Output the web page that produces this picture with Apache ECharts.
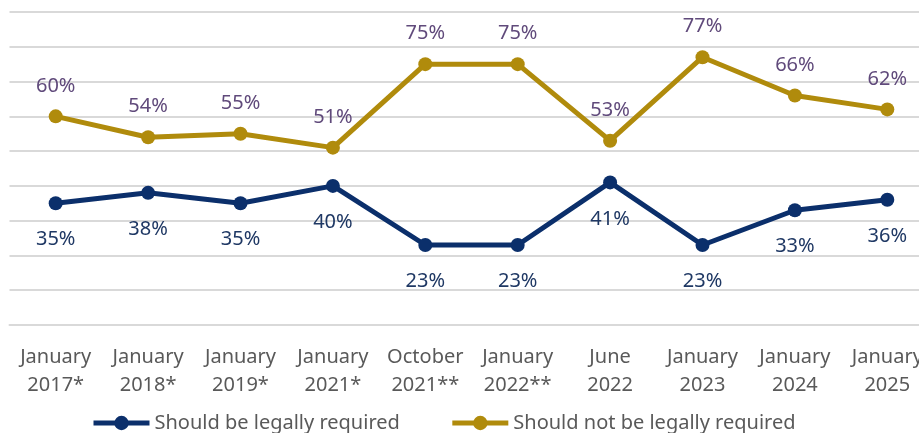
<!DOCTYPE html>
<html>
<head>
<meta charset="utf-8">
<script src="https://cdn.jsdelivr.net/npm/echarts@6/dist/echarts.min.js"></script>
<style>
  html, body { margin: 0; padding: 0; background: #fff; overflow: hidden; }
  /* chart is a bit wider than the window so the right edge gets cropped like the original */
  #main { width: 934px; height: 433px; }
</style>
</head>
<body>
<div id="main"></div>
<script>
// survey waves on the x axis
const categories = [
  'January\n2017*', 'January\n2018*', 'January\n2019*', 'January\n2021*',
  'October\n2021**', 'January\n2022**', 'June\n2022', 'January\n2023',
  'January\n2024', 'January\n2025'
]
const legallyRequired = [35, 38, 35, 40, 23, 23, 41, 23, 33, 36]
const notLegallyRequired = [60, 54, 55, 51, 75, 75, 53, 77, 66, 62]

const FONT = 'Noto Sans'
const option = {
  animation: false,
  backgroundColor: '#fff',
  textStyle: { fontFamily: FONT },
  grid: { left: 9.5, right: 0.5, top: 12, bottom: 108 },
  legend: {
    left: 86,
    top: 408,
    itemWidth: 56,
    itemHeight: 18,
    itemGap: 50,
    lineStyle: { width: 5 },
    textStyle: { color: '#595959', fontSize: 20, fontFamily: FONT },
    data: ['Should be legally required', 'Should not be legally required']
  },
  xAxis: {
    type: 'category',
    data: categories,
    axisLine: { lineStyle: { color: '#D9D9D9', width: 2 } },
    axisTick: { show: false },
    axisLabel: {
      color: '#595959',
      fontSize: 20,
      lineHeight: 28,
      margin: 18,
      interval: 0
    }
  },
  yAxis: {
    type: 'value',
    min: 0,
    max: 90,
    interval: 10,
    axisLabel: { show: false },
    axisLine: { show: false },
    splitLine: { lineStyle: { color: '#D9D9D9', width: 2 } }
  },
  series: [
    {
      name: 'Should be legally required',
      type: 'line',
      data: legallyRequired,
      symbol: 'circle',
      symbolSize: 14,
      color: '#0B2F6B',
      lineStyle: { width: 5 },
      label: {
        show: true,
        position: 'bottom',
        distance: 19,
        formatter: '{c}%',
        color: '#1F3864',
        fontSize: 20,
        lineHeight: 21
      }
    },
    {
      name: 'Should not be legally required',
      type: 'line',
      data: notLegallyRequired,
      symbol: 'circle',
      symbolSize: 14,
      color: '#B08B0C',
      lineStyle: { width: 5 },
      label: {
        show: true,
        position: 'top',
        distance: 13,
        formatter: '{c}%',
        color: '#604A7B',
        fontSize: 20,
        lineHeight: 21
      }
    }
  ]
}
const myChart = echarts.init(document.getElementById('main'))
myChart.setOption(option)
</script>
</body>
</html>
